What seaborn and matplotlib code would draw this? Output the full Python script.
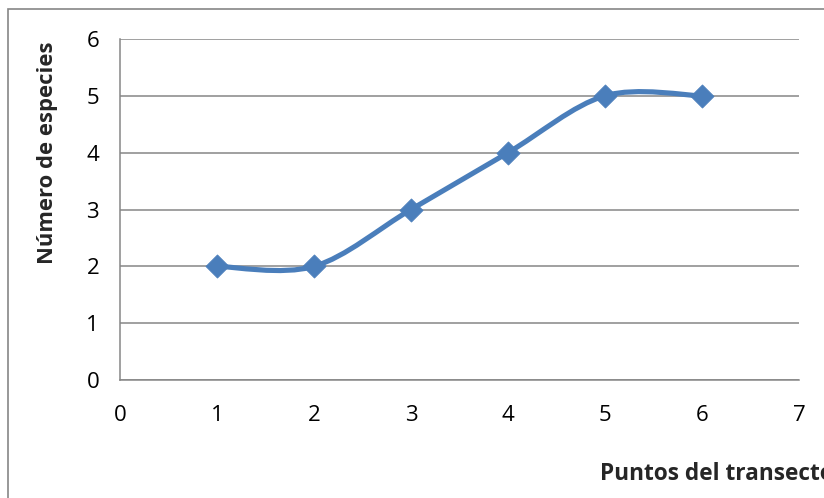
import numpy as np
import pandas as pd
import seaborn as sns
import matplotlib.pyplot as plt
from matplotlib.path import Path
from matplotlib.patches import PathPatch, Rectangle

puntos = [1, 2, 3, 4, 5, 6]
especies = [2, 2, 3, 4, 5, 5]
x_ticks = [0, 1, 2, 3, 4, 5, 6, 7]
y_ticks = [0, 1, 2, 3, 4, 5, 6]

LINE_BLUE = '#4a7ebb'
GRID_GRAY = '#868686'

sns.set_theme(style='white')
plt.rcParams['font.family'] = ['Open Sans', 'DejaVu Sans']

df = pd.DataFrame({'Puntos': puntos, 'Especies': especies})

fig = plt.figure(figsize=(8.24, 4.98), dpi=100)
ax = fig.add_axes([120 / 824, 1 - 380 / 498, 679 / 824, 341 / 498])

# outer chart border (the picture is a crop of a larger chart)
fig.patches.append(Rectangle((8 / 824, -0.1), 1.2, 1 - 9 / 498 + 0.1,
                             transform=fig.transFigure, fill=False,
                             edgecolor=GRID_GRAY, linewidth=1.2))


def smooth_path(xs, ys):
    # Excel-like smoothed line: cubic bezier with catmull-rom tangents
    pts = np.column_stack([xs, ys]).astype(float)
    n = len(pts)
    verts = [pts[0]]
    codes = [Path.MOVETO]
    for i in range(n - 1):
        p_prev = pts[i - 1] if i > 0 else pts[i]
        p_next2 = pts[i + 2] if i + 2 < n else pts[i + 1]
        c1 = pts[i] + (pts[i + 1] - p_prev) / 6
        c2 = pts[i + 1] - (p_next2 - pts[i]) / 6
        verts += [c1, c2, pts[i + 1]]
        codes += [Path.CURVE4] * 3
    return Path(verts, codes)


ax.add_patch(PathPatch(smooth_path(df['Puntos'], df['Especies']),
                       facecolor='none', edgecolor=LINE_BLUE, linewidth=3.7,
                       capstyle='round', joinstyle='round', zorder=3))
sns.scatterplot(data=df, x='Puntos', y='Especies', marker='D', s=140,
                color=LINE_BLUE, edgecolor=LINE_BLUE, linewidth=0.5,
                ax=ax, zorder=4)

ax.set_xlim(0, 7)
ax.set_ylim(0, 6)
ax.set_xticks(x_ticks)
ax.set_yticks(y_ticks)
ax.yaxis.grid(True, color=GRID_GRAY, linewidth=1.1)
ax.xaxis.grid(False)
ax.set_axisbelow(True)
for side in ['top', 'right']:
    ax.spines[side].set_visible(False)
for side in ['left', 'bottom']:
    ax.spines[side].set_color(GRID_GRAY)
    ax.spines[side].set_linewidth(1.1)
ax.tick_params(axis='both', direction='out', length=6, width=1.1,
               color=GRID_GRAY, labelsize=16, labelcolor='black')
ax.tick_params(axis='x', pad=12)
ax.tick_params(axis='y', pad=9)
ax.set_xlabel('')
ax.set_ylabel('')

fig.text(48 / 824, 1 - 153 / 498, 'Número de especies', rotation=90,
         ha='center', va='center', fontsize=15.8, fontweight='bold')
fig.text(600 / 824, 1 - 474 / 498, 'Puntos del transecto', ha='left',
         va='center', fontsize=16.3, fontweight='bold')

fig.savefig('out.png', dpi=100)
